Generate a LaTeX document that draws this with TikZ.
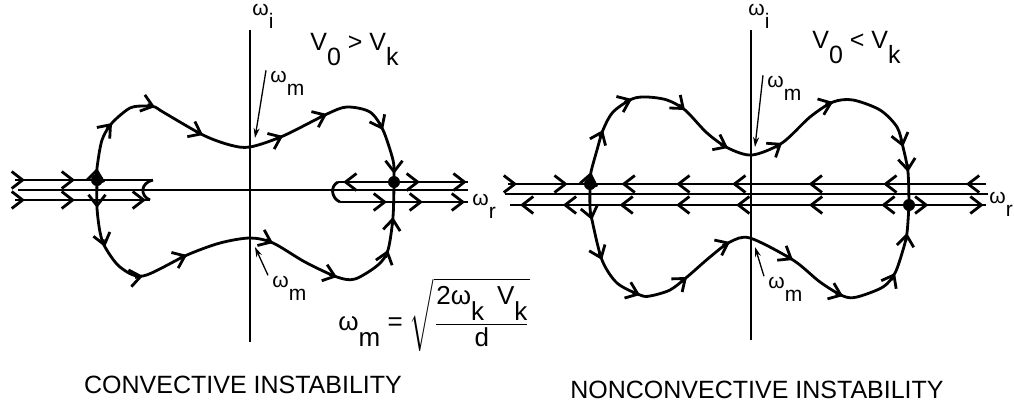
\documentclass[tikz,border=0pt]{standalone}
\usepackage{amsmath}
\usepackage{fontspec}
\setmainfont{Liberation Sans}
\usetikzlibrary{arrows.meta, decorations.markings}
\newcommand{\dn}[1]{\raisebox{-1.2ex}{#1}}
\tikzset{
    axisline/.style={line width=0.65pt},
    orbit/.style={line width=1.4pt, line join=round},
    fwd/.style={postaction={decorate, decoration={markings, mark=at position #1 with {\arrow{>}}}}},
    bwd/.style={postaction={decorate, decoration={markings, mark=at position #1 with {\arrowreversed{>}}}}},
    saddle/.style={circle, fill=black, inner sep=0pt, minimum size=6pt},
    lbl/.style={inner sep=0pt, anchor=base west, font=\fontsize{10.5}{12}\selectfont},
    cond/.style={inner sep=0pt, anchor=base west, font=\fontsize{12.5}{15}\selectfont},
    paneltitle/.style={inner sep=0pt, font=\fontsize{12.5}{14}\selectfont},
    leader/.style={line width=0.65pt, -{Stealth[length=5pt, width=3pt]}}
}

\begin{document}
\begin{tikzpicture}[x=0.5pt, y=-0.5pt, >={Straight Barb[length=5.5pt, width=8.5pt]}]
    \useasboundingbox (0,0) rectangle (1014,414);

    % convective case
    \draw[axisline] (250,30) -- (250,342);
    \draw[axisline] (18,190) -- (468,190);
    \node[lbl] (wiL) at (252,15) {ω\dn{i}};
    \node[lbl] (wrL) at (472,205) {ω\dn{r}};
    \node[cond] (vL) at (310,50) {V\dn{0} > V\dn{k}};

    \draw[orbit, fwd/.list={0.072,0.435}] (15,180) -- (153,180);
    \draw[orbit] (153,180) .. controls (140,183) and (140,196) .. (150,200);
    \draw[orbit, fwd/.list={0.074,0.444,0.97}] (15,200) -- (150,200);
    \draw[orbit, bwd=0.04, fwd/.list={0.63,0.99}] (338,182) -- (468,182);
    \draw[orbit] (338,182) .. controls (330,186) and (331,198) .. (340,202);
    \draw[orbit, fwd/.list={0.367,0.648,0.977}] (340,202) -- (468,202);

    \draw[orbit] plot[smooth] coordinates {(97,180) (97,168) (102,140) (112,123) (130,108)
        (145,106) (155,107) (163,112) (203,135) (230,145) (250,147) (283,136) (327,114)
        (347,107) (370,112) (383,130) (393,160) (394,174) (394,182)};
    \draw[orbit] plot[smooth] coordinates {(97,180) (97,208) (100,232) (105,247) (120,267)
        (143,276) (187,255) (220,243) (250,238) (273,243) (305,262) (337,277) (355,279)
        (378,265) (388,250) (393,217) (394,182)};
    \foreach \x/\y/\u/\v in {97/168/0.25/-2, 112/123/1.3/-1.5, 155/107/1.9/0.6,
        203/135/1.8/0.9, 283/136/1.85/-0.8, 327/114/1.8/-0.8, 383/130/0.9/1.8, 394/174/0/2,
        97/208/0/2, 105/247/0.5/1.9, 143/276/2/-0.35, 187/255/1.85/-0.8, 273/243/1.83/0.8,
        337/277/1.9/0.65, 388/250/0.6/-1.9, 393/217/0.2/-2}
        \draw[orbit, ->] (\x-4*\u,\y-4*\v) -- (\x,\y);

    \node[saddle] (sL1) at (97,180) {};
    \node[saddle] (sL2) at (394,182) {};

    \node[lbl] (wmL1) at (270,82) {ω\dn{m}};
    \coordinate (tL1) at (255,138);
    \draw[leader] ([xshift=-2pt]wmL1.north west) -- (tL1);
    \node[lbl] (wmL2) at (272,287) {ω\dn{m}};
    \coordinate (tL2) at (255,247);
    \draw[leader] ([xshift=-2pt]wmL2.north west) -- (tL2);

    \node[inner sep=0pt, anchor=base west, font=\fontsize{13}{15}\selectfont] (wdef) at (338,330)
        {ω\dn{m} = $\sqrt{\dfrac{\text{2ω\dn{k}\,\,\,V\dn{k}}}{\text{d}}}$};

    \node[paneltitle] (tConv) at (243,385) {CONVECTIVE INSTABILITY};

    % nonconvective case
    \draw[axisline] (751,30) -- (751,340);
    \draw[axisline] (505,194) -- (988,194);
    \node[lbl] (wiR) at (748,15) {ω\dn{i}};
    \node[lbl] (wrR) at (989,203) {ω\dn{r}};
    \node[cond] (vR) at (812,48) {V\dn{0} < V\dn{k}};

    \draw[orbit, fwd/.list={0.019,0.125}, bwd/.list={0.2375,0.352,0.469,0.629,0.785,0.958}]
        (508,184) -- (986,184);
    \draw[orbit, bwd/.list={0.021,0.111,0.230,0.349,0.475,0.628,0.78}, fwd/.list={0.879,0.995}]
        (510,205) -- (986,205);

    \draw[orbit] plot[smooth] coordinates {(590,184) (591,172) (597,150) (603,130) (613,112)
        (632,99) (647,97) (667,100) (685,110) (707,133) (728,148) (752,155) (782,143)
        (810,117) (833,102) (853,100) (880,110) (897,127) (903,147) (908,172) (909,205)};
    \draw[orbit] plot[smooth] coordinates {(590,184) (590,207) (592,220) (602,260) (617,283)
        (640,295) (650,296) (670,290) (687,277) (710,257) (730,242) (750,238) (793,260)
        (820,282) (843,296) (857,297) (883,287) (895,273) (903,250) (907,233) (909,205)};
    \foreach \x/\y/\u/\v in {591/172/0.4/-2, 603/130/0.8/-1.85, 632/99/1.85/-0.8,
        685/110/1.55/1.3, 728/148/1.8/0.9, 782/143/1.67/-1.1, 833/102/1.86/-0.73,
        903/147/0.5/1.95, 908/172/0.2/2,
        592/220/0.45/1.95, 602/260/0.74/1.86, 640/295/1.86/0.73, 687/277/1.54/-1.27,
        730/242/1.8/-0.86, 793/260/1.7/1.06, 843/296/1.85/0.75, 895/273/0.95/-1.76,
        907/233/0.26/-1.98}
        \draw[orbit, ->] (\x-4*\u,\y-4*\v) -- (\x,\y);

    \node[saddle] (sR1) at (590,184) {};
    \node[saddle] (sR2) at (909,205) {};

    \node[lbl] (wmR1) at (767,87) {ω\dn{m}};
    \coordinate (tR1) at (755,147);
    \draw[leader] ([xshift=-2pt]wmR1.north west) -- (tR1);
    \node[lbl] (wmR2) at (768,288) {ω\dn{m}};
    \coordinate (tR2) at (755,247);
    \draw[leader] ([xshift=-2pt]wmR2.north west) -- (tR2);

    \node[paneltitle] (tNonc) at (757,390) {NONCONVECTIVE INSTABILITY};
\end{tikzpicture}
\end{document}
